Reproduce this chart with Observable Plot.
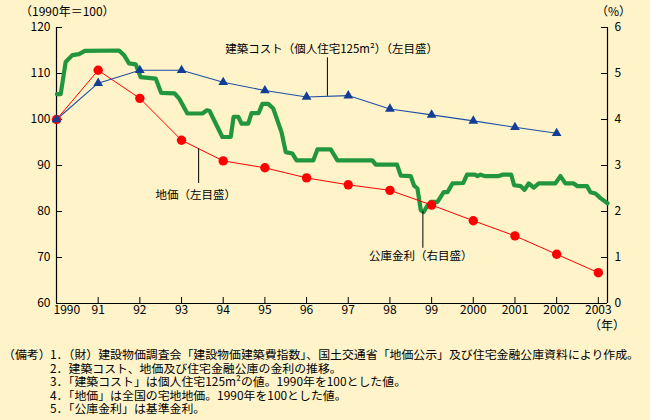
<!DOCTYPE html>
<html><head><meta charset="utf-8">
<script src="https://cdn.jsdelivr.net/npm/d3@7"></script>
<script src="https://cdn.jsdelivr.net/npm/@observablehq/plot@0.6"></script>
<style>
body{margin:0;background:#fff3c9;}
#wrap{position:relative;width:650px;height:420px;background:#fff3c9;font-family:"Noto Sans CJK JP",sans-serif;color:#000;overflow:hidden}
.lbl{position:absolute;font-size:12px;white-space:pre;line-height:12px}
#chart{position:absolute;left:0;top:0}
.notes{position:absolute;top:347px;font-size:11.9px;line-height:13.5px;white-space:pre}
</style></head><body><div id="wrap">
<div id="chart"></div>
<div class="lbl" style="left:20px;top:5px">（1990年＝100）</div>
<div class="lbl" style="left:596px;top:5px">（%）</div>
<div class="lbl" style="left:589px;top:319px">（年）</div>
<div class="notes" style="left:3px">（備考）</div>
<div class="notes" id="notes" style="left:50px"></div>
</div>
<script>
// Building cost index (1990 = 100), left axis
const costYears = [1990,1991,1992,1993,1994,1995,1996,1997,1998,1999,2000,2001,2002];
const costIndex = [100,107.9,110.7,110.7,108.1,106.3,104.9,105.2,102.3,101.0,99.7,98.3,97.0];
// Land price index (1990 = 100), left axis
const landYears = [1990,1991,1992,1993,1994,1995,1996,1997,1998,1999,2000,2001,2002,2003];
const landIndex = [100,110.7,104.6,95.5,91.0,89.5,87.3,85.8,84.6,81.4,78.0,74.7,70.7,66.7];
// Housing loan corporation base rate (%), right axis
const rateTime = [1990.01,1990.10,1990.22,1990.38,1990.54,1990.68,1991.50,1991.62,1991.74,1991.90,1992.02,1992.38,1992.51,1992.83,1992.94,1993.14,1993.50,1993.61,1993.67,1993.98,1994.18,1994.25,1994.36,1994.44,1994.60,1994.68,1994.85,1994.94,1995.08,1995.20,1995.40,1995.50,1995.66,1995.76,1996.16,1996.26,1996.58,1996.74,1997.58,1997.66,1998.17,1998.26,1998.50,1998.58,1998.66,1998.74,1998.81,1998.90,1998.98,1999.14,1999.29,1999.38,1999.50,1999.76,1999.85,2000.04,2000.10,2000.17,2000.27,2000.61,2000.70,2000.91,2000.98,2001.14,2001.23,2001.33,2001.45,2001.57,2001.97,2002.09,2002.21,2002.41,2002.50,2002.73,2002.81,2002.93,2003.05,2003.22];
const rateValue = [4.55,4.55,5.25,5.40,5.42,5.49,5.50,5.40,5.22,5.20,4.92,4.89,4.58,4.57,4.46,4.13,4.13,4.20,4.19,3.62,3.62,4.06,4.06,3.91,3.91,4.14,4.14,4.34,4.34,4.24,3.72,3.29,3.26,3.11,3.11,3.35,3.35,3.11,3.11,3.02,3.02,2.78,2.77,2.56,2.50,2.03,1.99,2.13,2.21,2.21,2.42,2.42,2.61,2.62,2.80,2.80,2.77,2.80,2.77,2.77,2.80,2.80,2.57,2.55,2.47,2.61,2.52,2.61,2.61,2.77,2.61,2.61,2.55,2.55,2.42,2.39,2.29,2.18];
// Axis ticks
const xTickYears = [1990,1991,1992,1993,1994,1995,1996,1997,1998,1999,2000,2001,2002,2003];
const xTickLabels = ["1990","91","92","93","94","95","96","97","98","99","2000","2001","2002","2003"];
const leftTicks = [60,70,80,90,100,110,120];
const rightTickLabels = ["0","1","2","3","4","5","6"];
const xDomain = [1990, 2003.22];
const yDomain = [60, 120];
// Annotations
const annotations = [
  {text:"建築コスト（個人住宅125m²）（左目盛）", x:1996.6, y:115.2, lx:1996.5, ly1:113.4, ly2:105.05},
  {text:"地価（左目盛）", x:1993.34, y:83.6, lx:1993.41, ly1:93.6, ly2:86.1},
  {text:"公庫金利（右目盛）", x:1998.74, y:70.3, lx:1998.79, ly1:80.0, ly2:72.0}
];
const notes = [
  "1．（財）建設物価調査会「建設物価建築費指数」、国土交通省「地価公示」及び住宅金融公庫資料により作成。",
  "2．建築コスト、地価及び住宅金融公庫の金利の推移。",
  "3．「建築コスト」は個人住宅125m²の値。1990年を100とした値。",
  "4．「地価」は全国の宅地地価。1990年を100とした値。",
  "5．「公庫金利」は基準金利。"
];

const W = 650, H = 335, ML = 56, MR = 43, MT = 27, MB = 32, TICK = 6;
const plotW = W - ML - MR, plotH = H - MT - MB;
const toLeft = v => v * 10 + 60;
const cost = costYears.map((t,i)=>({t, v:costIndex[i]}));
const land = landYears.map((t,i)=>({t, v:landIndex[i]}));
const rate = rateTime.map((t,i)=>({t, v:toLeft(rateValue[i])}));
const lbl = d => xTickLabels[xTickYears.indexOf(d)];

const font = "Noto Sans CJK JP";
const plot = Plot.plot({
  width: W, height: H,
  marginLeft: ML, marginRight: MR, marginTop: MT, marginBottom: MB,
  style: {background: "none", fontFamily: font, fontSize: "12px", color: "#000", overflow: "visible"},
  x: {domain: xDomain},
  y: {domain: yDomain},
  marks: [
    Plot.ruleX(xDomain, {stroke: "#000", strokeWidth: 1.2}),
    Plot.ruleY([yDomain[0]], {stroke: "#000", strokeWidth: 1.2}),
    Plot.tickY(leftTicks, {y: d => d, insetRight: plotW - TICK, stroke: "#000"}),
    Plot.tickY(leftTicks, {y: d => d, insetLeft: plotW - TICK, stroke: "#000"}),
    Plot.tickX(xTickYears.slice(1), {x: d => d, insetTop: plotH - TICK, stroke: "#000"}),
    Plot.axisY({ticks: leftTicks, tickSize: 0, tickPadding: 6, tickFormat: d => String(d), label: null}),
    Plot.axisY({anchor: "right", ticks: leftTicks, tickSize: 0, tickPadding: 7, tickFormat: d => rightTickLabels[leftTicks.indexOf(d)], label: null}),
    Plot.axisX({ticks: xTickYears.slice(1), tickSize: 0, tickPadding: 2, tickFormat: lbl, label: null}),
    Plot.axisX({ticks: xTickYears.slice(0,1), tickSize: 0, tickPadding: 2, textAnchor: "start", dx: -3, tickFormat: lbl, label: null}),
    Plot.line(rate, {x: "t", y: "v", stroke: "#22963f", strokeWidth: 4.2, strokeLinejoin: "round"}),
    Plot.line(land, {x: "t", y: "v", stroke: "#ff0000", strokeWidth: 1}),
    Plot.dot(land, {x: "t", y: "v", fill: "#ff0000", r: 4.7}),
    Plot.line(cost, {x: "t", y: "v", stroke: "#1f4fa6", strokeWidth: 1.1}),
    Plot.dot(cost, {x: "t", y: "v", fill: "#123f95", symbol: "triangle", r: 3.6}),
    Plot.ruleX(annotations, {x: "lx", y1: "ly1", y2: "ly2", stroke: "#000", strokeWidth: 1}),
    Plot.text(annotations, {x: "x", y: "y", text: "text", textAnchor: "middle", fontSize: 11.5, fill: "#000"})
  ]
});
document.getElementById("chart").appendChild(plot);
document.getElementById("notes").textContent = notes.join("\n");
</script>
</body></html>
